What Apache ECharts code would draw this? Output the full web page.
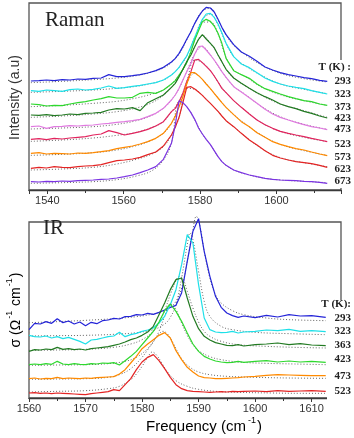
<!DOCTYPE html>
<html>
<head>
<meta charset="utf-8">
<script src="https://cdn.jsdelivr.net/npm/echarts@6.0.0/dist/echarts.min.js"></script>
<style>
  html, body { margin: 0; padding: 0; background: #fff; }
  #chart { width: 354px; height: 438px; }
</style>
</head>
<body>
<div id="chart"></div>
<script>
// ---------- Raman 数据 (频率 cm-1, 强度 a.u) ----------
var ramanFreq = [1535.7, 1537.8, 1539.8, 1541.8, 1543.9, 1545.9, 1548.0, 1550.0, 1552.0, 1554.1,
  1556.1, 1558.2, 1560.2, 1562.3, 1564.3, 1566.3, 1568.4, 1570.4, 1572.5, 1573.5,
  1574.5, 1575.5, 1576.5, 1577.6, 1578.6, 1579.6, 1580.6, 1581.6, 1582.7, 1583.7,
  1584.7, 1585.7, 1586.8, 1588.8, 1590.8, 1592.9, 1594.9, 1597.0, 1599.0, 1601.0,
  1603.1, 1605.1, 1607.2, 1609.2, 1611.3, 1613.3];
var raman293 = [327, 328, 330, 328, 331, 330, 333, 332, 335, 336,
  346, 340, 340, 343, 346, 351, 358, 368, 384, 395,
  410, 430, 452, 475, 500, 520, 537, 548, 546, 534,
  512, 488, 466, 436, 414, 401, 386, 369, 360, 352,
  346, 342, 337, 334, 329, 326];
var raman323 = [298, 296, 300, 298, 296, 301, 303, 300, 302, 306,
  312, 305, 307, 311, 314, 318, 322, 330, 345, 355,
  368, 385, 402, 430, 458, 485, 512, 528, 530, 518,
  498, 472, 440, 400, 378, 367, 352, 336, 326, 318,
  312, 308, 304, 298, 293, 288];
var raman373 = [258, 256, 252, 254, 253, 258, 262, 265, 270, 274,
  280, 276, 276, 278, 290, 293, 290, 300, 318, 328,
  345, 362, 382, 415, 450, 478, 505, 512, 506, 492,
  470, 440, 395, 358, 346, 335, 318, 304, 296, 288,
  280, 274, 268, 265, 258, 254];
var raman423 = [225, 224, 226, 223, 225, 228, 226, 230, 231, 233,
  240, 244, 243, 247, 238, 262, 274, 285, 308, 320,
  340, 362, 385, 405, 430, 452, 466, 453, 440, 427,
  405, 385, 362, 336, 320, 305, 292, 280, 270, 258,
  250, 244, 236, 230, 222, 216];
var raman473 = [190, 192, 185, 190, 191, 193, 192, 194, 195, 198,
  200, 203, 205, 208, 212, 220, 230, 245, 270, 285,
  305, 330, 355, 380, 408, 430, 432, 420, 405, 390,
  373, 355, 338, 310, 294, 277, 260, 242, 228, 218,
  210, 203, 196, 190, 186, 181];
var raman523 = [152, 154, 151, 155, 153, 156, 158, 160, 165, 168,
  178, 172, 165, 170, 175, 182, 192, 205, 235, 245,
  265, 290, 325, 355, 390, 392, 382, 371, 358, 342,
  324, 305, 292, 268, 248, 228, 210, 196, 185, 176,
  170, 165, 160, 155, 150, 145];
var raman573 = [110, 112, 108, 110, 109, 108, 111, 110, 112, 115,
  118, 124, 128, 132, 138, 145, 155, 170, 200, 222,
  250, 280, 318, 352, 352, 343, 332, 318, 304, 290,
  276, 262, 248, 226, 205, 190, 172, 158, 145, 137,
  130, 124, 120, 114, 108, 103];
var raman623 = [65, 68, 66, 70, 68, 67, 70, 72, 73, 76,
  82, 88, 90, 93, 98, 106, 114, 132, 165, 188,
  218, 262, 308, 310, 303, 294, 284, 272, 260, 248,
  236, 222, 208, 190, 170, 150, 135, 118, 104, 96,
  90, 85, 82, 79, 74, 68];
var raman673 = [25, 24, 26, 25, 27, 26, 28, 29, 30, 32,
  33, 36, 40, 45, 52, 60, 70, 92, 140, 195,
  268, 262, 250, 232, 212, 186, 168, 152, 136, 118,
  100, 85, 74, 60, 52, 45, 40, 35, 32, 30,
  29, 28, 26, 25, 23, 20];

// 拟合曲线 (虚线)
var ramanFitFreq = [1535.7, 1543.9, 1552.0, 1558.2, 1563.3, 1567.4, 1570.4, 1572.5, 1574.5, 1576.5,
  1578.6, 1580.6, 1582.7, 1584.7, 1586.8, 1588.8, 1591.9, 1595.9, 1601.0, 1607.2, 1613.3];
var ramanFit293 = [322, 326, 331, 336, 343, 354, 366, 382, 408, 450, 500, 537, 545, 510, 465, 434, 405, 376, 350, 334, 324];
var ramanFit323 = [293, 296, 300, 305, 311, 320, 330, 345, 368, 402, 458, 510, 528, 495, 440, 400, 372, 345, 318, 302, 289];
var ramanFit373 = [250, 254, 260, 266, 276, 288, 300, 318, 345, 382, 450, 503, 504, 468, 398, 360, 340, 310, 286, 268, 254];
var ramanFit423 = [218, 222, 228, 235, 246, 262, 284, 308, 340, 385, 430, 464, 440, 405, 362, 336, 312, 285, 258, 238, 218];
var ramanFit473 = [183, 186, 190, 197, 208, 224, 245, 270, 305, 355, 408, 430, 405, 372, 338, 311, 286, 252, 220, 197, 182];
var ramanFit523 = [146, 150, 156, 164, 173, 188, 205, 235, 265, 325, 390, 382, 358, 324, 292, 268, 238, 203, 176, 158, 145];
var ramanFit573 = [104, 107, 112, 120, 133, 150, 170, 200, 250, 318, 350, 332, 304, 276, 248, 226, 198, 166, 137, 118, 104];
var ramanFit623 = [60, 63, 68, 78, 92, 108, 130, 165, 218, 305, 302, 284, 260, 236, 208, 190, 160, 126, 97, 82, 70];
var ramanFit673 = [20, 22, 25, 31, 42, 58, 90, 140, 265, 250, 210, 168, 136, 100, 74, 60, 48, 37, 30, 26, 22];

var ramanTemps = ['293', '323', '373', '423', '473', '523', '573', '623', '673'];

// ---------- IR 数据 (频率 cm-1, 电导率 a.u) ----------
var irFreq = [1560, 1561, 1562, 1563, 1564, 1565, 1566, 1567, 1568, 1569,
  1570, 1571, 1572, 1573, 1574, 1575, 1576, 1577, 1578, 1579,
  1580, 1581, 1582, 1583, 1584, 1585, 1586, 1587, 1588, 1589,
  1590, 1591, 1592, 1593, 1594, 1595, 1596, 1597, 1598, 1600,
  1602, 1604, 1606, 1608, 1610, 1612.5];
var ir293 = [205, 224, 222, 229, 224, 238, 226, 231, 222, 228,
  217, 227, 223, 232, 234, 239, 237, 244, 245, 250,
  249, 254, 251, 257, 264, 272, 278, 315, 410, 500,
  538, 440, 365, 305, 272, 255, 247, 242, 246, 241,
  248, 243, 250, 246, 247, 242];
var ir323 = [188, 184, 183, 186, 180, 184, 178, 182, 176, 170,
  162, 174, 176, 180, 184, 186, 197, 184, 190, 194,
  200, 204, 210, 225, 245, 280, 325, 400, 490, 465,
  340, 240, 205, 198, 196, 197, 200, 195, 198, 200,
  204, 202, 206, 200, 202, 199];
var ir363 = [140, 145, 144, 147, 145, 152, 146, 148, 145, 147,
  144, 148, 150, 152, 154, 158, 162, 168, 175, 180,
  188, 198, 215, 250, 285, 325, 355, 360, 300, 245,
  208, 185, 174, 166, 162, 158, 157, 160, 156, 160,
  162, 165, 160, 163, 159, 157];
var ir423 = [100, 102, 100, 103, 101, 110, 102, 100, 103, 101,
  100, 103, 102, 105, 104, 106, 99, 112, 125, 140,
  160, 180, 200, 228, 262, 282, 260, 230, 195, 162,
  140, 125, 117, 111, 108, 106, 107, 110, 107, 110,
  112, 108, 111, 108, 110, 107];
var ir473 = [58, 60, 57, 59, 58, 62, 58, 60, 59, 58,
  60, 59, 61, 62, 63, 64, 72, 85, 105, 125,
  148, 162, 175, 188, 196, 180, 142, 115, 92, 78,
  66, 61, 60, 58, 58, 59, 60, 61, 63, 65,
  68, 70, 69, 68, 67, 67];
var ir523 = [15, 16, 14, 15, 13, 15, 14, 13, 12, 11,
  10, 13, 15, 17, 19, 25, 22, 40, 58, 85,
  108, 122, 130, 112, 88, 62, 40, 28, 22, 20,
  19, 18, 17, 18, 19, 18, 20, 19, 20, 21,
  19, 22, 20, 21, 22, 20];

// IR 拟合曲线 [频率, 值]
var irFit293 = [[1560, 226], [1565, 229], [1570, 233], [1575, 238], [1579, 244], [1582, 252], [1584, 262],
  [1585, 272], [1586, 290], [1587, 330], [1588, 410], [1589, 505], [1589.6, 545], [1590.2, 520], [1591, 440],
  [1592, 360], [1593, 310], [1594, 285], [1596, 262], [1598, 250], [1602, 240], [1606, 235], [1612.5, 232]];
var irFit323 = [[1560, 186], [1565, 187], [1570, 188], [1575, 191], [1579, 196], [1582, 205], [1584, 222],
  [1585, 242], [1586, 280], [1587, 360], [1588, 460], [1588.5, 495], [1589, 475], [1590, 380], [1591, 290],
  [1592, 245], [1594, 215], [1596, 205], [1600, 197], [1606, 193], [1612.5, 190]];
var irFit363 = [[1560, 143], [1565, 144], [1570, 146], [1575, 152], [1578, 162], [1580, 175], [1582, 200],
  [1583, 225], [1584, 262], [1585, 310], [1586, 352], [1586.6, 365], [1587.3, 355], [1588, 320], [1589, 270],
  [1590, 228], [1591, 200], [1592, 185], [1594, 170], [1597, 160], [1602, 155], [1607, 152], [1612.5, 150]];
var irFit423 = [[1560, 98], [1565, 99], [1570, 100], [1574, 103], [1577, 110], [1579, 122], [1581, 148],
  [1582, 168], [1583, 200], [1584, 245], [1585, 282], [1586, 265], [1587, 225], [1588, 188], [1589, 160],
  [1590, 142], [1592, 124], [1594, 115], [1597, 108], [1602, 104], [1607, 102], [1612.5, 100]];
var irFit473 = [[1560, 56], [1565, 57], [1570, 58], [1574, 62], [1576, 70], [1578, 88], [1580, 122],
  [1581, 145], [1582, 170], [1583, 192], [1583.7, 200], [1584.5, 192], [1585.5, 165], [1587, 118],
  [1588.5, 92], [1590, 78], [1592, 70], [1595, 65], [1600, 62], [1606, 60], [1612.5, 59]];
var irFit523 = [[1560, 18], [1565, 20], [1570, 22], [1574, 28], [1576, 35], [1578, 55], [1579, 72],
  [1580, 95], [1581, 122], [1581.8, 138], [1582.6, 128], [1583.5, 105], [1584.5, 78], [1586, 52],
  [1588, 35], [1590, 26], [1593, 20], [1597, 17], [1603, 15], [1608, 14], [1612.5, 14]];

var irTemps = ['293', '323', '363', '423', '473', '523'];

// ---------- 颜色 ----------
var C_BLUE = '#2424d8', C_CYAN = '#1ee0e8', C_GREEN = '#2ed82e', C_DKGREEN = '#227a22',
  C_PINK = '#e07ae0', C_CRIMSON = '#e2245e', C_ORANGE = '#ff8a00', C_RED = '#e42424', C_PURPLE = '#7b33e3';

var ramanCurves = [raman293, raman323, raman373, raman423, raman473, raman523, raman573, raman623, raman673];
var ramanFits = [ramanFit293, ramanFit323, ramanFit373, ramanFit423, ramanFit473, ramanFit523, ramanFit573, ramanFit623, ramanFit673];
var ramanColors = [C_BLUE, C_CYAN, C_GREEN, C_DKGREEN, C_PINK, C_CRIMSON, C_ORANGE, C_RED, C_PURPLE];

var irCurves = [ir293, ir323, ir363, ir423, ir473, ir523];
var irFits = [irFit293, irFit323, irFit363, irFit423, irFit473, irFit523];
var irColors = [C_BLUE, C_CYAN, C_DKGREEN, C_GREEN, C_ORANGE, C_RED];

function zip(xs, ys) {
  return xs.map(function (x, i) { return [x, ys[i]]; });
}

var series = [];
//拟合虚线先画
ramanFits.forEach(function (fit, i) {
  series.push({
    name: 'Raman fit ' + ramanTemps[i], type: 'line', xAxisIndex: 0, yAxisIndex: 0,
    data: zip(ramanFitFreq, fit), showSymbol: false, symbol: 'none', smooth: 0.4,
    lineStyle: { color: '#666', width: 1, type: [1, 2] }, z: 2
  });
});
ramanCurves.forEach(function (d, i) {
  series.push({
    name: 'Raman ' + ramanTemps[i], type: 'line', xAxisIndex: 0, yAxisIndex: 0,
    data: zip(ramanFreq, d), showSymbol: false, symbol: 'none',
    lineStyle: { color: ramanColors[i], width: 1.2 }, z: 3
  });
});
irFits.forEach(function (fit, i) {
  series.push({
    name: 'IR fit ' + irTemps[i], type: 'line', xAxisIndex: 1, yAxisIndex: 1,
    data: fit, showSymbol: false, symbol: 'none', smooth: 0.4, clip: false,
    lineStyle: { color: '#666', width: 1, type: [1, 2] }, z: 2
  });
});
irCurves.forEach(function (d, i) {
  series.push({
    name: 'IR ' + irTemps[i], type: 'line', xAxisIndex: 1, yAxisIndex: 1,
    data: zip(irFreq, d), showSymbol: false, symbol: 'none', clip: false,
    lineStyle: { color: irColors[i], width: 1.2 }, z: 3
  });
});

var AXIS_COLOR = '#3a3a3a';
function xAxisBase(gridIndex) {
  return {
    type: 'value', gridIndex: gridIndex,
    axisLine: { show: true, lineStyle: { color: AXIS_COLOR, width: 1.3 } },
    axisTick: { show: true, inside: false, length: 4, lineStyle: { color: AXIS_COLOR } },
    minorTick: { show: true, splitNumber: 2, length: 3, lineStyle: { color: AXIS_COLOR } },
    splitLine: { show: false },
    minorSplitLine: { show: false },
    axisLabel: {
      margin: 5, fontSize: 11, fontFamily: 'Liberation Sans', color: '#333',
      showMinLabel: false, showMaxLabel: false,
      formatter: function (v) { return String(Math.round(v)); }
    }
  };
}

var xRaman = xAxisBase(0);
xRaman.min = 1535.2;
xRaman.max = 1616.9;
xRaman.splitNumber = 4;

var xIR = xAxisBase(1);
xIR.min = 1560;
xIR.max = 1615.2;
xIR.interval = 10;
xIR.axisLabel.showMinLabel = true;

function yAxisBase(gridIndex, max) {
  return {
    type: 'value', gridIndex: gridIndex, min: 0, max: max,
    axisLine: { show: false }, axisTick: { show: false },
    axisLabel: { show: false }, splitLine: { show: false }
  };
}

// 图例文字位置
var ramanLabelY = [81, 94, 106.7, 118, 129.5, 144.3, 157, 169.2, 181];
var irLabelY = [317.7, 331, 345, 359.3, 375.7, 390.7];

var graphic = [
  // 遮住右边框 (标签区域)
  { type: 'rect', z: 100, shape: { x: 333, y: 60, width: 15, height: 128 }, style: { fill: '#fff' } },
  { type: 'rect', z: 100, shape: { x: 327, y: 300, width: 25, height: 104 }, style: { fill: '#fff' } },
  {
    type: 'text', z: 101, x: 45, y: 20.5,
    style: { text: 'Raman', font: '21px "Liberation Serif"', fill: '#222', align: 'left', verticalAlign: 'middle' }
  },
  {
    type: 'text', z: 101, x: 43, y: 228.5,
    style: { text: 'IR', font: '21px "Liberation Serif"', fill: '#222', align: 'left', verticalAlign: 'middle' }
  },
  {
    type: 'text', z: 101, x: 15.5, y: 97.5, rotation: Math.PI / 2,
    style: { text: 'Intensity (a.u)', font: '14px "Liberation Sans"', fill: '#333', align: 'center', verticalAlign: 'middle' }
  },
  {
    type: 'text', z: 101, x: 14.5, y: 310, rotation: Math.PI / 2,
    style: {
      text: '{n|σ (Ω}{s|-1}{n| cm}{s|-1}{n|)}', align: 'center', verticalAlign: 'middle',
      rich: {
        n: { fontSize: 14, fontFamily: 'Liberation Sans', color: '#333', lineHeight: 18, verticalAlign: 'bottom' },
        s: { fontSize: 9, fontFamily: 'Liberation Sans', color: '#333', lineHeight: 18, verticalAlign: 'top', padding: [0, 1, 0, 1] }
      }
    }
  },
  {
    type: 'text', z: 101, x: 204, y: 425.5,
    style: {
      text: '{n|Frequency (cm}{s|-1}{n|)}', align: 'center', verticalAlign: 'middle',
      rich: {
        n: { fontSize: 15, fontFamily: 'Liberation Sans', color: '#333', lineHeight: 18, verticalAlign: 'bottom' },
        s: { fontSize: 9, fontFamily: 'Liberation Sans', color: '#333', lineHeight: 18, verticalAlign: 'top', padding: [0, 1, 0, 2] }
      }
    }
  },
  {
    type: 'text', z: 101, x: 351, y: 66.7,
    style: { text: 'T (K) :', font: 'bold 11px "Liberation Serif"', fill: '#222', align: 'right', verticalAlign: 'middle' }
  },
  {
    type: 'text', z: 101, x: 351, y: 304.3,
    style: { text: 'T (K):', font: 'bold 11px "Liberation Serif"', fill: '#222', align: 'right', verticalAlign: 'middle' }
  }
];
ramanTemps.forEach(function (t, i) {
  graphic.push({
    type: 'text', z: 101, x: 351, y: ramanLabelY[i],
    style: { text: t, font: 'bold 11px "Liberation Serif"', fill: '#222', align: 'right', verticalAlign: 'middle' }
  });
});
irTemps.forEach(function (t, i) {
  graphic.push({
    type: 'text', z: 101, x: 351, y: irLabelY[i],
    style: { text: t, font: 'bold 11px "Liberation Serif"', fill: '#222', align: 'right', verticalAlign: 'middle' }
  });
});

var option = {
  animation: false,
  backgroundColor: '#fff',
  grid: [
    { left: 29, top: 3, width: 312, height: 187, show: true, borderColor: '#555', borderWidth: 1.3, backgroundColor: 'transparent' },
    { left: 29, top: 222, width: 312, height: 176, show: true, borderColor: '#555', borderWidth: 1.3, backgroundColor: 'transparent' }
  ],
  xAxis: [xRaman, xIR],
  yAxis: [yAxisBase(0, 561), yAxisBase(1, 528)],
  series: series,
  graphic: graphic
};

var chart = echarts.init(document.getElementById('chart'), null, { renderer: 'canvas' });
chart.setOption(option);
</script>
</body>
</html>
